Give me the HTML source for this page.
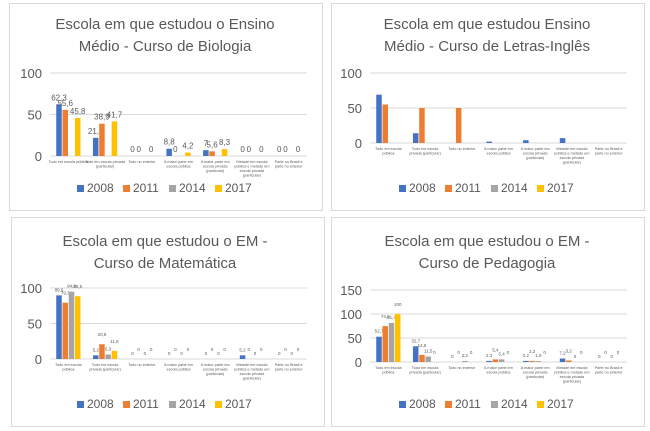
<!DOCTYPE html>
<html><head><meta charset="utf-8"><style>
body{margin:0;background:#fff;width:650px;height:431px;overflow:hidden;font-family:"Liberation Sans",sans-serif}
.panel{position:absolute;border:1px solid #d9d9d9;background:#fff}
svg{position:absolute;left:0;top:0}
</style></head><body>
<div class="panel" style="left:9px;top:3px;width:312px;height:206px"></div>
<div class="panel" style="left:331px;top:3px;width:312px;height:206px"></div>
<div class="panel" style="left:11px;top:217px;width:312px;height:208px"></div>
<div class="panel" style="left:331px;top:217px;width:312px;height:208px"></div>
<svg id="s" width="650" height="431"></svg>
<script>
const categories=["Todo em escola pública","Todo em escola privada (particular)","Todo no exterior","A maior parte em escola pública","A maior parte em escola privada (particular)","Metade em escola pública e metade em escola privada (particular)","Parte no Brasil e parte no exterior"];
const years=["2008","2011","2014","2017"];
const bio2008=[62.3,21.9,0,8.8,7,0,0];
const bio2011=[55.6,38.9,0,0,5.6,0,0];
const bio2014=[null,null,null,null,null,null,null];
const bio2017=[45.8,41.7,0,4.2,8.3,0,0];
const let2008=[69,14,0,2,4,7,0];
const let2011=[55,50,50,0,0,0,0];
const let2014=[null,null,null,null,null,null,null];
const let2017=[null,null,null,null,null,null,null];
const mat2008=[89.6,5.2,0,0,0,5.2,0];
const mat2011=[79.3,20.8,0,0,0,0,0];
const mat2014=[94.8,6.3,0,0,0,0,0];
const mat2017=[88.5,11.5,0,0,0,0,0];
const ped2008=[52.7,32.7,0,2.3,2.2,7.2,0];
const ped2011=[74.8,14.8,0,5.4,2.2,3.2,0];
const ped2014=[81.4,11.5,2.2,5.4,1.9,0,0];
const ped2017=[100,0,0,0,0,0,0];
const ticks100=[0,50,100];
const ticks150=[0,50,100,150];
const colors=["#4472c4","#ed7d31","#a5a5a5","#ffc000"];
const NS="http://www.w3.org/2000/svg";
const svg=document.getElementById('s');
function el(t,a,txt){const e=document.createElementNS(NS,t);for(const k in a)e.setAttribute(k,a[k]);if(txt!==undefined)e.textContent=txt;svg.appendChild(e);return e;}
function fmt(v){return String(v).replace('.',',');}
function chart(o){
  const [x0,x1,yTop,yBot,max]=[o.x0,o.x1,o.yTop,o.yBot,o.max];
  const ys=v=>yBot-(v/max)*(yBot-yTop);
  const cx=o.cx;
  o.title.forEach((t,i)=>{const e=el('text',{x:cx,y:o.titleY+i*22,'text-anchor':'middle','font-size':15,fill:'#595959'},t);
  
  });
  o.ticks.forEach(t=>{
    const g=el('line',{x1:x0,x2:x1,y1:ys(t),y2:ys(t),stroke:'#d9d9d9','stroke-width':1});
    
    
    const l=el('text',{x:x0-8,y:ys(t)+5,'text-anchor':'end','font-size':13,fill:'#595959'},t);
    
    
  });
  const gw=(x1-x0)/categories.length;
  const bw=gw*0.15, gap=gw*0.02;
  categories.forEach((c,i)=>{
    const gx=x0+gw*i+gw/2;
    o.series.forEach((arr,s)=>{
      const v=arr[i]; if(v===null)return;
      const bx=gx-2*bw-1.5*gap+s*(bw+gap);
      if(v>0){const r=el('rect',{x:bx,y:ys(v),width:bw,height:yBot-ys(v),fill:colors[s]});
      
      }
      if(o.labels){const t=el('text',{x:bx+bw/2,y:ys(v)-4-(o.stagger&&s%2?4:0),'text-anchor':'middle','font-size':o.lfs,fill:'#595959'},fmt(v));
      
      }
    });
    const words=c.split(' ');let lines=[],cur='';
    words.forEach(w=>{if((cur+' '+w).trim().length>o.wrap){lines.push(cur);cur=w;}else cur=(cur+' '+w).trim();});lines.push(cur);
    lines.forEach((ln,k)=>{const t=el('text',{x:gx,y:yBot+7+k*4.5,'text-anchor':'middle','font-size':3.8,fill:'#595959'},ln);
    
    });
  });
  years.forEach((y,s)=>{
    const lx=cx-88+s*46;
    const r=el('rect',{x:lx,y:o.legY-7,width:7,height:7,fill:colors[s]});
    
    
    const t=el('text',{x:lx+10,y:o.legY,'font-size':12,fill:'#595959'},y);
    
    
  });
}
chart({cx:165,x0:50,x1:307,yTop:73,yBot:156,max:100,ticks:ticks100,title:["Escola em que estudou o Ensino","Médio - Curso de Biologia"],titleY:29,series:[bio2008,bio2011,bio2014,bio2017],labels:true,lfs:8,legY:192,wrap:22});
chart({cx:487,x0:370,x1:627,yTop:73,yBot:143,max:100,ticks:ticks100,title:["Escola em que estudou Ensino","Médio - Curso de Letras-Inglês"],titleY:29,series:[let2008,let2011,let2014,let2017],labels:false,legY:192,wrap:20});
chart({cx:165,x0:50,x1:307,yTop:288,yBot:359,max:100,ticks:ticks100,title:["Escola em que estudou o EM -","Curso de Matemática"],titleY:246,series:[mat2008,mat2011,mat2014,mat2017],labels:true,lfs:4.5,legY:408,wrap:20,stagger:true});
chart({cx:487,x0:370,x1:627,yTop:290,yBot:362,max:150,ticks:ticks150,title:["Escola em que estudou o EM -","Curso de Pedagogia"],titleY:246,series:[ped2008,ped2011,ped2014,ped2017],labels:true,lfs:4.5,legY:408,wrap:20,stagger:true});
</script>
</body></html>
